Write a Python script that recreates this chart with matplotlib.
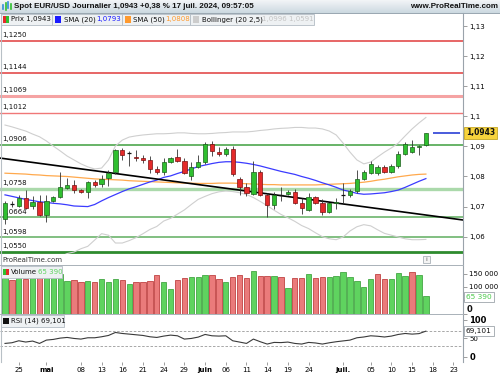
import matplotlib
matplotlib.use("Agg")
import matplotlib.pyplot as plt
from matplotlib.patches import Rectangle
import numpy as np

W, H = 500, 375

# ---------------- data ----------------
opens = [1.0658, 1.0711, 1.0702, 1.0729, 1.0702, 1.0716, 1.0671, 1.0718, 1.0731, 1.0763,
         1.0771, 1.0754, 1.0749, 1.0781, 1.0775, 1.0794, 1.0814, 1.0889, 1.0877, 1.0866,
         1.0862, 1.0856, 1.0826, 1.0814, 1.0849, 1.0864, 1.0853, 1.0803, 1.0832, 1.0849,
         1.0909, 1.0882, 1.0876, 1.0893, 1.0792, 1.0765, 1.0743, 1.0814, 1.0740, 1.0705,
         1.0741, 1.0743, 1.0749, 1.0711, 1.0688, 1.0731, 1.0711, 1.0683, 1.0713, 1.0737,
         1.0737, 1.0751, 1.0793, 1.0812, 1.0810, 1.0832, 1.0816, 1.0834, 1.0875, 1.0882,
         1.0898, 1.0906]
highs = [1.0717, 1.0718, 1.0740, 1.0754, 1.0735, 1.0740, 1.0738, 1.0735, 1.0816, 1.0796,
         1.0789, 1.0757, 1.0786, 1.0787, 1.0804, 1.0820, 1.0892, 1.0895, 1.0886, 1.0889,
         1.0872, 1.0867, 1.0836, 1.0862, 1.0866, 1.0893, 1.0863, 1.0849, 1.0870, 1.0914,
         1.0917, 1.0898, 1.0898, 1.0900, 1.0797, 1.0780, 1.0851, 1.0820, 1.0745, 1.0748,
         1.0766, 1.0755, 1.0757, 1.0727, 1.0745, 1.0735, 1.0724, 1.0713, 1.0727, 1.0777,
         1.0757, 1.0820, 1.0823, 1.0851, 1.0837, 1.0837, 1.0841, 1.0884, 1.0914, 1.0922,
         1.0903, 1.0946]
lows = [1.0641, 1.0700, 1.0697, 1.0693, 1.0693, 1.0668, 1.0650, 1.0714, 1.0727, 1.0757,
        1.0746, 1.0744, 1.0729, 1.0766, 1.0765, 1.0770, 1.0808, 1.0856, 1.0836, 1.0852,
        1.0845, 1.0812, 1.0808, 1.0805, 1.0846, 1.0848, 1.0807, 1.0790, 1.0827, 1.0843,
        1.0867, 1.0867, 1.0868, 1.0801, 1.0737, 1.0735, 1.0738, 1.0736, 1.0667, 1.0691,
        1.0718, 1.0740, 1.0707, 1.0674, 1.0685, 1.0707, 1.0671, 1.0680, 1.0691, 1.0711,
        1.0733, 1.0745, 1.0789, 1.0807, 1.0804, 1.0810, 1.0812, 1.0829, 1.0871, 1.0877,
        1.0871, 1.0900]
closes = [1.0711, 1.0709, 1.0727, 1.0696, 1.0716, 1.0671, 1.0718, 1.0731, 1.0765, 1.0771,
          1.0754, 1.0748, 1.0781, 1.0773, 1.0792, 1.0812, 1.0887, 1.0871, 1.0878, 1.0861,
          1.0855, 1.0826, 1.0814, 1.0849, 1.0862, 1.0851, 1.0812, 1.0832, 1.0849, 1.0909,
          1.0884, 1.0875, 1.0893, 1.0807, 1.0766, 1.0746, 1.0814, 1.0740, 1.0705, 1.0740,
          1.0739, 1.0750, 1.0711, 1.0694, 1.0733, 1.0713, 1.0683, 1.0711, 1.0716, 1.0739,
          1.0751, 1.0793, 1.0814, 1.0843, 1.0832, 1.0816, 1.0836, 1.0876, 1.0908, 1.0898,
          1.0902, 1.0943]
volumes = [133000, 126000, 135000, 130000, 140000, 145000, 150000, 150000, 148000, 123000,
           126000, 119000, 123000, 119000, 131000, 120000, 131000, 126000, 111000, 119000,
           119000, 124000, 144000, 119000, 92000, 126000, 135000, 138000, 136000, 145000,
           145000, 131000, 118000, 138000, 145000, 135000, 161000, 143000, 143000, 143000,
           136000, 97000, 133000, 133000, 148000, 133000, 136000, 136000, 143000, 155000,
           136000, 124000, 99000, 129000, 149000, 130000, 129000, 151000, 141000, 155000,
           145000, 65390]
rsi14 = [36.3, 38.1, 43.4, 40.0, 42.6, 36.3, 45.2, 47.0, 50.5, 52.3,
         49.6, 47.9, 51.4, 51.4, 54.1, 57.6, 65.6, 62.9, 61.2, 59.4,
         57.6, 54.1, 52.3, 55.9, 58.5, 56.7, 47.9, 49.6, 53.2, 60.3,
         56.7, 55.9, 56.7, 43.4, 39.9, 36.3, 47.9, 40.8, 34.6, 39.0,
         38.5, 39.9, 36.3, 34.6, 39.0, 37.5, 34.6, 38.0, 40.8, 43.0,
         45.2, 51.4, 53.5, 56.7, 55.5, 53.5, 55.9, 60.3, 62.9, 61.2,
         62.5, 69.101]
sma20 = [1.0739, 1.0734, 1.0729, 1.0724, 1.0720, 1.0716, 1.0714, 1.0711, 1.0709, 1.0706,
         1.0702, 1.0701, 1.0700, 1.0707, 1.0719, 1.0730, 1.0740, 1.0750, 1.0759, 1.0766,
         1.0774, 1.0782, 1.0788, 1.0797, 1.0802, 1.0810, 1.0817, 1.0825, 1.0833, 1.0838,
         1.0843, 1.0847, 1.0849, 1.0849, 1.0847, 1.0844, 1.0840, 1.0835, 1.0829, 1.0823,
         1.0817, 1.0812, 1.0807, 1.0800, 1.0794, 1.0787, 1.0779, 1.0772, 1.0764, 1.0755,
         1.0750, 1.0744, 1.0741, 1.0742, 1.0744, 1.0746, 1.0750, 1.0755, 1.0764, 1.0774,
         1.0784, 1.0793]
sma50 = [1.0811, 1.0810, 1.0809, 1.0808, 1.0806, 1.0805, 1.0803, 1.0802, 1.0801, 1.0800,
         1.0798, 1.0796, 1.0794, 1.0792, 1.0791, 1.0790, 1.0789, 1.0788, 1.0786, 1.0785,
         1.0784, 1.0783, 1.0782, 1.0781, 1.0780, 1.0779, 1.0778, 1.0778, 1.0777, 1.0777,
         1.0777, 1.0778, 1.0778, 1.0778, 1.0777, 1.0776, 1.0775, 1.0774, 1.0773, 1.0773,
         1.0772, 1.0772, 1.0772, 1.0772, 1.0772, 1.0772, 1.0773, 1.0774, 1.0775, 1.0776,
         1.0777, 1.0779, 1.0781, 1.0784, 1.0788, 1.0791, 1.0795, 1.0799, 1.0802, 1.0805,
         1.0807, 1.0808]
boll_up = [1.0971, 1.0965, 1.0958, 1.0951, 1.0941, 1.0932, 1.0918, 1.0901, 1.0885, 1.0868,
           1.0855, 1.0842, 1.0832, 1.0825, 1.0828, 1.0855, 1.0901, 1.0921, 1.0931, 1.0935,
           1.0938, 1.0940, 1.0942, 1.0942, 1.0943, 1.0945, 1.0945, 1.0943, 1.0942, 1.0942,
           1.0943, 1.0945, 1.0946, 1.0948, 1.0948, 1.0948, 1.0950, 1.0953, 1.0955, 1.0958,
           1.0960, 1.0961, 1.0963, 1.0963, 1.0961, 1.0961, 1.0958, 1.0951, 1.0938, 1.0911,
           1.0881, 1.0855, 1.0842, 1.0848, 1.0865, 1.0881, 1.0895, 1.0911, 1.0935, 1.0958,
           1.0978, 1.0996]
boll_low = [1.0507, 1.0503, 1.0500, 1.0497, 1.0499, 1.0500, 1.0510, 1.0521, 1.0533, 1.0544,
            1.0549, 1.0560, 1.0568, 1.0589, 1.0610, 1.0605, 1.0579, 1.0579, 1.0587, 1.0597,
            1.0610, 1.0624, 1.0634, 1.0652, 1.0661, 1.0675, 1.0689, 1.0707, 1.0724, 1.0734,
            1.0743, 1.0749, 1.0752, 1.0750, 1.0746, 1.0740, 1.0730, 1.0717, 1.0703, 1.0688,
            1.0674, 1.0663, 1.0651, 1.0637, 1.0627, 1.0613, 1.0600, 1.0593, 1.0590, 1.0599,
            1.0619, 1.0633, 1.0640, 1.0636, 1.0623, 1.0611, 1.0605, 1.0599, 1.0593, 1.0590,
            1.0590, 1.0591]

level_values = [1.1250, 1.1144, 1.1069, 1.1012, 1.0906, 1.0758, 1.0664, 1.0598, 1.0550]
level_labels = ["1,1250", "1,1144", "1,1069", "1,1012", "1,0906", "1,0758", "1,0664", "1,0598", "1,0550"]
level_colors = ["#e03c3c", "#e03c3c", "#f5a3a3", "#f07878", "#3f9f3f", "#abd9ab", "#5fae5f", "#5fae5f", "#2e8b2e"]
level_widths = [1.1, 1.1, 2.2, 1.0, 1.1, 2.4, 1.1, 1.1, 2.0]

trend_idx = [0, 61]
trend_price = [1.0859, 1.0672]

xtick_idx = [2, 6, 11, 14, 17, 20, 23, 26, 29, 32, 35, 38, 41, 44, 49, 53, 56, 59, 62, 65]
xtick_labels = ["25", "mai", "08", "13", "16", "21", "24", "29", "juin", "06", "11", "14",
                "19", "24", "juil.", "05", "10", "15", "18", "23"]
month_labels = ["mai", "juin", "juil."]
price_ticks = [1.06, 1.07, 1.08, 1.09, 1.10, 1.11, 1.12, 1.13]
price_tick_labels = ["1,06", "1,07", "1,08", "1,09", "1,1", "1,11", "1,12", "1,13"]
vol_ticks = [0, 50000, 100000, 150000]
vol_tick_labels = ["", "", "100 000", "150 000"]
rsi_ticks = [0, 50, 100]
rsi_tick_labels = ["0", "50", "100"]

title = "Spot EUR/USD Journalier 1,0943 +0,38 % 17 juil. 2024, 09:57:05"
last_price_label = "1,0943"
last_vol_label = "65 390"
last_rsi_label = "69,101"

# ---------------- figure ----------------
plt.rcParams['font.family'] = ['DejaVu Sans']
fig = plt.figure(figsize=(5, 3.75), dpi=100)
fig.patch.set_facecolor('white')


def fx(x):
    return x / W


def fy(y):
    return 1 - y / H


def add_ax(x0, y0, x1, y1):
    return fig.add_axes([fx(x0), fy(y1), (x1 - x0) / W, (y1 - y0) / H])


def box(x0, y0, x1, y1, fc, ec, lw=0.6, z=5):
    fig.add_artist(Rectangle((fx(x0), fy(y1)), (x1 - x0) / W, (y1 - y0) / H,
                             transform=fig.transFigure, facecolor=fc, edgecolor=ec,
                             linewidth=lw, zorder=z))


def txt(x, y, s, z=7, **kw):
    kw.setdefault('va', 'center')
    kw.setdefault('fontsize', 5)
    fig.text(fx(x), fy(y), s, zorder=z, **kw)


def hline(x0, x1, y, color, lw=0.7, z=4):
    fig.add_artist(plt.Line2D([fx(x0), fx(x1)], [fy(y), fy(y)], transform=fig.transFigure,
                              color=color, linewidth=lw, zorder=z))


def vline(x, y0, y1, color, lw=0.7, z=4):
    fig.add_artist(plt.Line2D([fx(x), fx(x)], [fy(y0), fy(y1)], transform=fig.transFigure,
                              color=color, linewidth=lw, zorder=z))


n = len(closes)
idx = np.arange(n)
XLIM = (-0.725, 66.38)

# ---- price panel ----
ax = add_ax(0, 13, 463, 254)
ax.set_xlim(*XLIM)
ax.set_ylim(1.05425, 1.13432)
ax.set_facecolor('white')
for s in ax.spines.values():
    s.set_visible(False)
ax.set_xticks([])
ax.yaxis.tick_right()
ax.set_yticks(price_ticks)
ax.set_yticklabels(price_tick_labels)
ax.tick_params(axis='y', length=3, width=0.5, color='#777777', labelsize=5, pad=1.5)

for v, lab, c, lw in zip(level_values, level_labels, level_colors, level_widths):
    ax.axhline(v, color=c, linewidth=lw, zorder=1)
    ax.text(-0.45, v + 0.0009, lab, fontsize=5, va='bottom', ha='left', zorder=1.5, color='#111111')

ax.plot(idx, boll_up, color='#cfcfcf', linewidth=0.8, zorder=2)
ax.plot(idx, boll_low, color='#cfcfcf', linewidth=0.8, zorder=2)
ax.plot(idx, sma50, color='#ffa94d', linewidth=0.9, zorder=2.2)
ax.plot(idx, sma20, color='#3b3bff', linewidth=0.9, zorder=2.3)
ax.axline((trend_idx[0], trend_price[0]), (trend_idx[1], trend_price[1]), color='black',
          linewidth=1.2, zorder=2.5)

for i in range(n):
    o, h, l, c = opens[i], highs[i], lows[i], closes[i]
    ax.vlines(i, l, h, color='#333333', linewidth=0.6, zorder=3)
    if abs(c - o) < 0.00025:
        ax.hlines(c, i - 0.32, i + 0.32, color='#111111', linewidth=0.9, zorder=4)
    else:
        up = c > o
        ax.bar(i, max(abs(c - o), 0.0003), bottom=min(o, c), width=0.62,
               color='#2fbf2f' if up else '#e42a2a',
               edgecolor='#1d5e1d' if up else '#7a1010', linewidth=0.5, zorder=4)

ax.hlines(closes[-1], 62.0, 66.0, color='#2b3fd6', linewidth=1.2, zorder=4)

# ---- volume panel ----
axv = add_ax(0, 265, 463, 314)
axv.set_xlim(*XLIM)
axv.set_ylim(-1500, 182700)
for s in axv.spines.values():
    s.set_visible(False)
axv.set_xticks([])
axv.yaxis.tick_right()
axv.set_yticks(vol_ticks)
axv.set_yticklabels(vol_tick_labels)
axv.tick_params(axis='y', length=3, width=0.5, color='#777777', labelsize=5, pad=1.5)
for i in range(n):
    up = i == 0 or closes[i] >= closes[i - 1]
    axv.bar(i, volumes[i], width=0.78, color='#5fd35f' if up else '#ea7b7b',
            edgecolor='#2f9a2f' if up else '#b52a2a', linewidth=0.5, zorder=3)
txt(467, 309.5, "0", fontweight='bold', fontsize=6, color='#111111')

# ---- RSI panel ----
axr = add_ax(0, 314, 463, 362)
axr.set_xlim(*XLIM)
axr.set_ylim(-13.4, 115)
for s in axr.spines.values():
    s.set_visible(False)
axr.yaxis.tick_right()
axr.set_yticks(rsi_ticks)
axr.set_yticklabels(rsi_tick_labels)
axr.tick_params(axis='y', length=3, width=0.5, color='#777777', labelsize=5, pad=1.5)
for t in axr.get_yticklabels():
    if t.get_text() in ("0", "100"):
        t.set_fontweight('bold')
        t.set_fontsize(6)
axr.axhline(70, color='#9a9a9a', linewidth=0.6, linestyle=(0, (3, 2)), zorder=1)
axr.axhline(30, color='#9a9a9a', linewidth=0.6, linestyle=(0, (3, 2)), zorder=1)
axr.plot(idx, rsi14, color='#3a3a3a', linewidth=0.8, zorder=3)
axr.set_xticks(xtick_idx)
axr.set_xticklabels(xtick_labels)
axr.tick_params(axis='x', length=2, width=0.5, color='#777777', labelsize=5, pad=1.5)
for t in axr.get_xticklabels():
    if t.get_text() in month_labels:
        t.set_fontweight('bold')

# ---- frame lines ----
vline(463, 13, 362, '#9aa3ab', lw=0.8)
vline(0.5, 13, 362, '#b8c0c6', lw=0.8)
hline(0, 463, 265, '#a9b1b8', lw=0.7)
hline(0, 463, 314, '#a9b1b8', lw=0.7)

# ---- title bar ----
axt = add_ax(0, 0, 500, 13)
grad = np.linspace(0, 1, 32).reshape(-1, 1)
top = np.array([0.95, 0.96, 0.97])
bot = np.array([0.80, 0.85, 0.88])
img = top[None, None, :] * (1 - grad[:, :, None]) + bot[None, None, :] * grad[:, :, None]
axt.imshow(img, aspect='auto', extent=(0, 1, 0, 1))
axt.set_axis_off()
hline(0, 500, 12.8, '#98a6b0', lw=0.7, z=6)
for hx, yb, yt, col in [(3.0, 9, 5, '#2f8fd8'), (5.5, 10, 3, '#2fbf2f'),
                        (8.0, 8, 2, '#2f8fd8'), (10.5, 9, 4, '#2fbf2f')]:
    vline(hx, yb, yt, col, lw=1.2, z=7)
txt(14, 6.3, title, fontweight='bold', fontsize=5.8, color='#111111', family=['Liberation Sans'])
txt(498, 6.3, "www.ProRealTime.com", fontweight='bold', fontsize=5.8, ha='right', color='#111111',
    family=['Liberation Sans'])

# ---- legend row ----
box(0.5, 13.5, 52, 25, '#eef1f3', '#b3bcc4')
box(2.5, 16, 5.5, 22.5, '#e42a2a', 'none', lw=0, z=6)
box(5.5, 16, 8.5, 22.5, '#2fbf2f', 'none', lw=0, z=6)
txt(11, 19.5, "Prix 1,0943", color='#111111')

box(52, 13.5, 122, 25, '#eef1f3', '#b3bcc4')
box(54.5, 16, 61, 22.5, '#1a1aff', 'none', lw=0, z=6)
txt(64, 19.5, "SMA (20)", color='#111111')
txt(96, 19.5, "1,0793", color='#1a1aff')

box(122, 13.5, 190, 25, '#eef1f3', '#b3bcc4')
box(124.5, 16, 131, 22.5, '#ff9a2e', 'none', lw=0, z=6)
txt(133, 19.5, "SMA (50)", color='#111111')
txt(165, 19.5, "1,0808", color='#ff9a2e')

box(190, 13.5, 314, 25, '#eef1f3', '#b3bcc4')
box(192.5, 16, 199, 22.5, '#cccccc', 'none', lw=0, z=6)
txt(202, 19.5, "Bollinger (20 2,5)", color='#111111')
txt(262, 19.5, "1,0996 1,0591", color='#c4c4c4')

# ---- last price label ----
txt(466, 133, last_price_label, fontweight='bold', fontsize=5.5, color='#111111',
    bbox=dict(boxstyle='square,pad=0.25', facecolor='#f7d33c', edgecolor='#b89a10', linewidth=0.5))

# ---- between panels ----
txt(2, 260, "ProRealTime.com", color='#333333')
box(423, 255.5, 430, 262.5, '#f4f4f4', '#9aa3ab', lw=0.5)
txt(426.5, 259.2, "i", ha='center', fontsize=4.5, color='#555555')

# ---- volume legend ----
box(0.5, 265.5, 62, 278, '#eef1f3', '#b3bcc4')
box(2.5, 268.5, 5.5, 275, '#2fbf2f', 'none', lw=0, z=6)
box(5.5, 268.5, 8.5, 275, '#e42a2a', 'none', lw=0, z=6)
txt(11, 272, "Volume", color='#111111')
txt(38, 272, "65 390", color='#5fd35f')
txt(466, 297, last_vol_label, fontsize=5.3, color='#4cc94c',
    bbox=dict(boxstyle='square,pad=0.25', facecolor='white', edgecolor='#8a939a', linewidth=0.5))

# ---- RSI legend ----
box(0.5, 314.5, 64, 327, '#eef1f3', '#b3bcc4')
box(2.5, 317.5, 9, 324, '#111111', 'none', lw=0, z=6)
txt(11, 321, "RSI (14) 69,101", color='#111111')
txt(466, 331, last_rsi_label, fontsize=5.3, color='#111111',
    bbox=dict(boxstyle='square,pad=0.25', facecolor='white', edgecolor='#8a939a', linewidth=0.5))

fig.savefig("out.png", dpi=100, facecolor='white')
